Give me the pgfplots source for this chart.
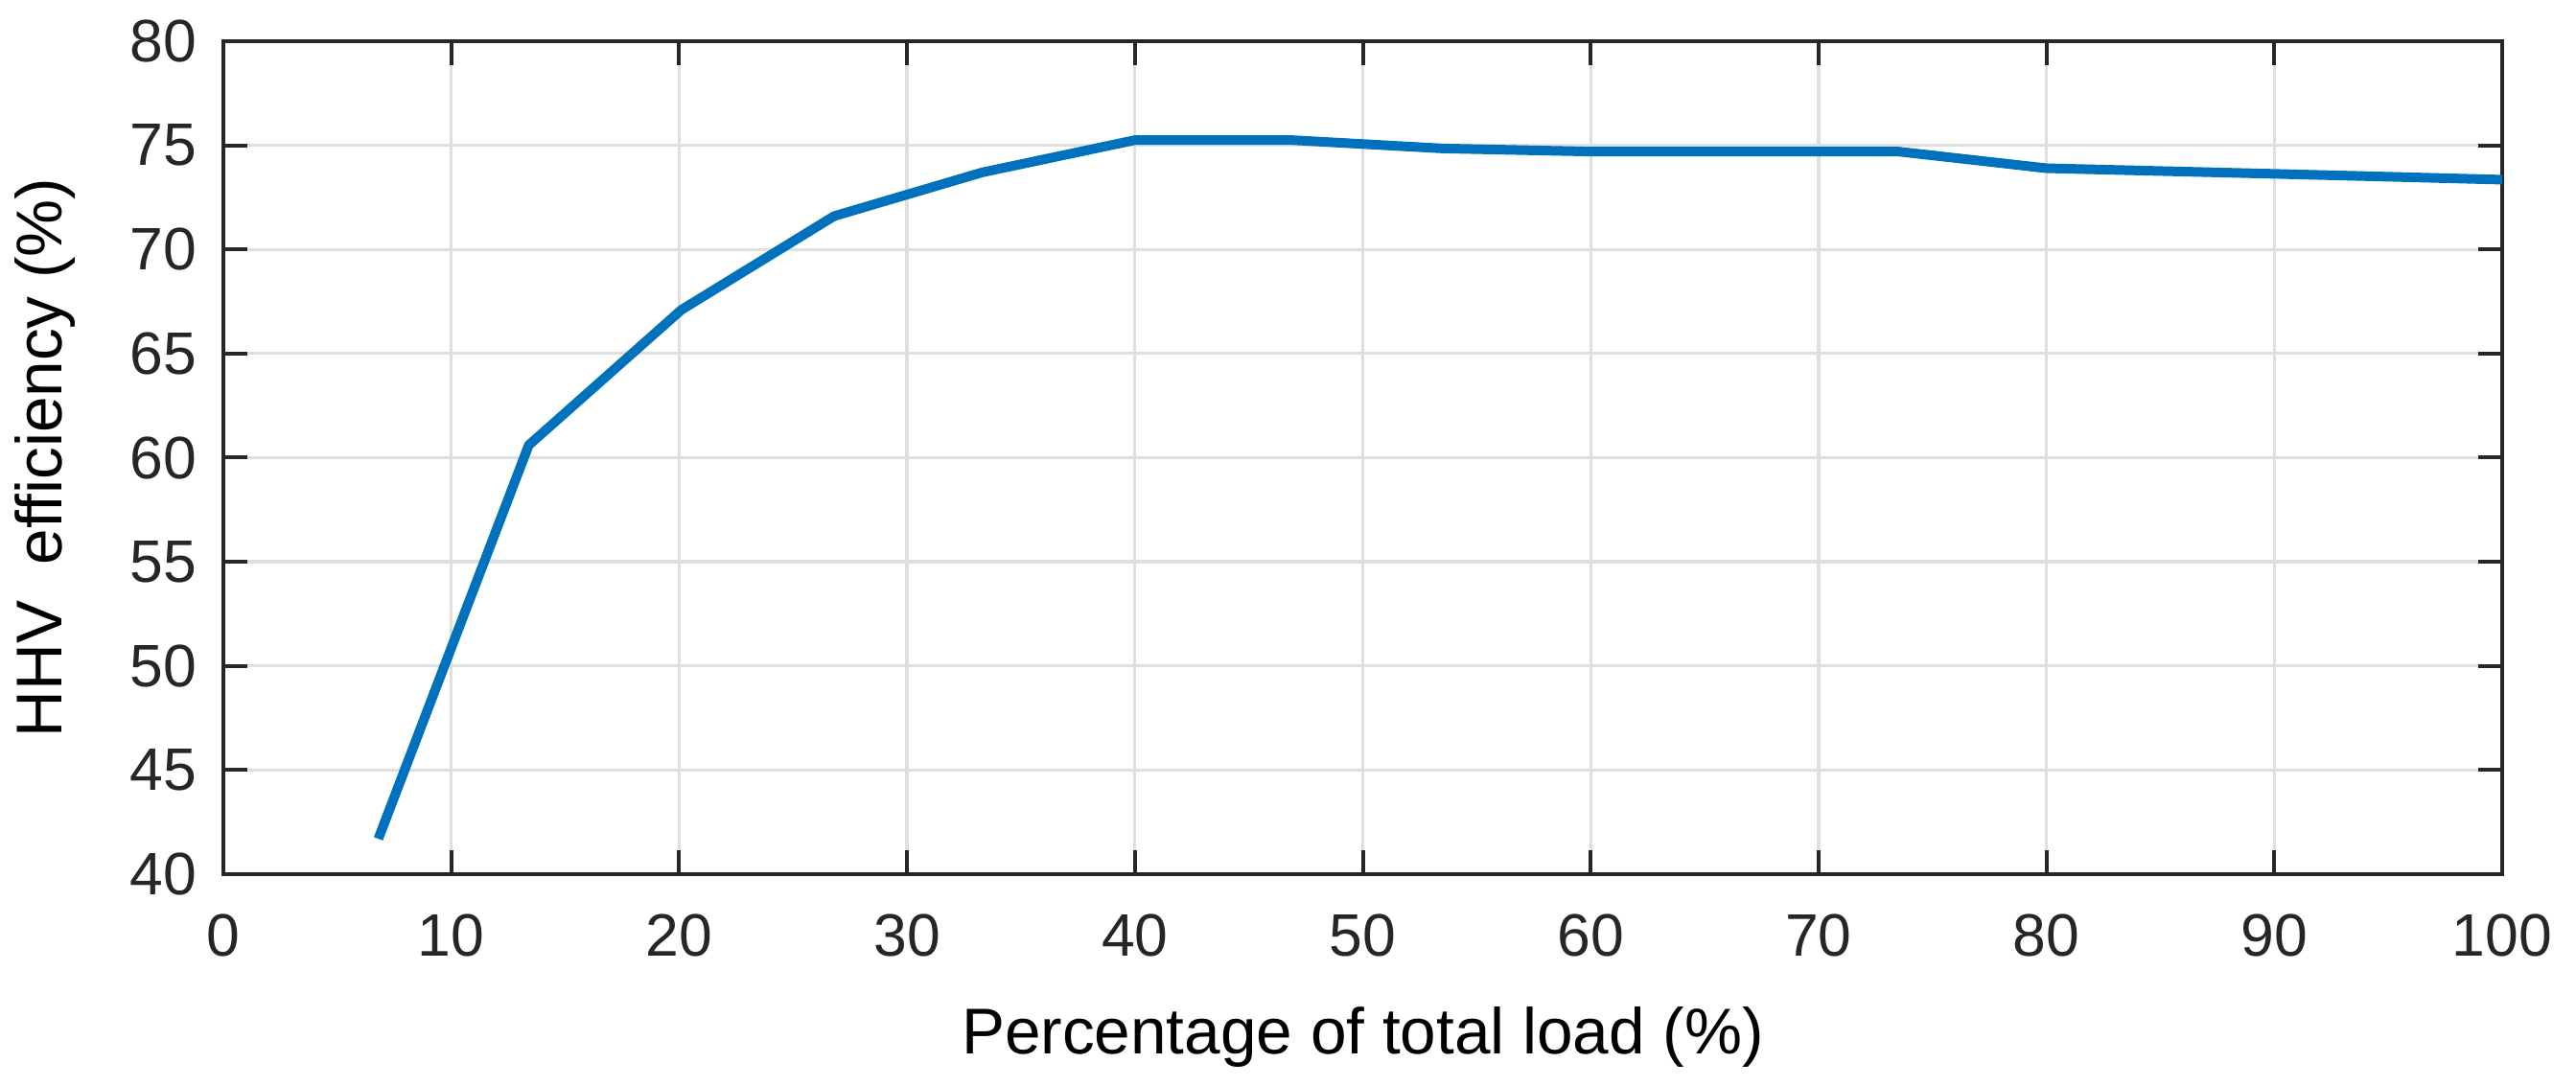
\documentclass[border=0pt]{standalone}
\usepackage{fontspec}
\setmainfont{Liberation Sans}
\usepackage{pgfplots}
\pgfplotsset{compat=1.18}

\definecolor{mblue}{RGB}{0,114,189}
\definecolor{axgray}{RGB}{38,38,38}
\definecolor{gridgray}{RGB}{223,223,223}

\begin{document}
\begin{tikzpicture}
\begin{axis}[
    scale only axis,
    width=475.4pt, height=173.8pt,
    xmin=0, xmax=100,
    ymin=40, ymax=80,
    xtick={0,10,...,100},
    ytick={40,45,...,80},
    grid=major,
    major grid style={gridgray, line width=0.65pt},
    axis line style={axgray, line width=0.8pt},
    tick style={axgray, line width=0.8pt},
    tick align=inside,
    major tick length=5pt,
    /pgf/number format/assume math mode=true,
    ticklabel style={font=\fontsize{12.5}{14}\selectfont, text=axgray, inner sep=0pt},
    xticklabel style={yshift=-8.2pt},
    yticklabel style={xshift=-5.3pt},
    every axis x label/.style={at={(axis description cs:0.5,0)}, anchor=north,
        yshift=-27.6pt, inner sep=0pt, font=\fontsize{13.5}{16}\selectfont},
    every axis y label/.style={at={(axis description cs:0,0.5)}, xshift=-43.6pt,
        rotate=90, anchor=north, inner sep=0pt, font=\fontsize{13.5}{16}\selectfont},
    xlabel={Percentage of total load (\%)},
    ylabel={HHV\ \ efficiency (\%)},
]

% efficiency curve
\addplot[mblue, line width=2pt, line join=round] coordinates {
    (6.8,41.7) (13.4,60.6) (20.1,67.1) (26.8,71.6) (33.3,73.7)
    (40,75.25) (46.9,75.25) (53.5,74.85) (60,74.7) (66.7,74.7)
    (73.5,74.7) (80,73.9) (86.7,73.72) (93.3,73.54) (100,73.35)
};

\end{axis}
\pgfresetboundingbox
\path[use as bounding box] ([xshift=-46.6pt,yshift=-44.2pt]current axis.south west)
    rectangle ([xshift=15.4pt,yshift=8.6pt]current axis.north east);
\end{tikzpicture}
\end{document}
